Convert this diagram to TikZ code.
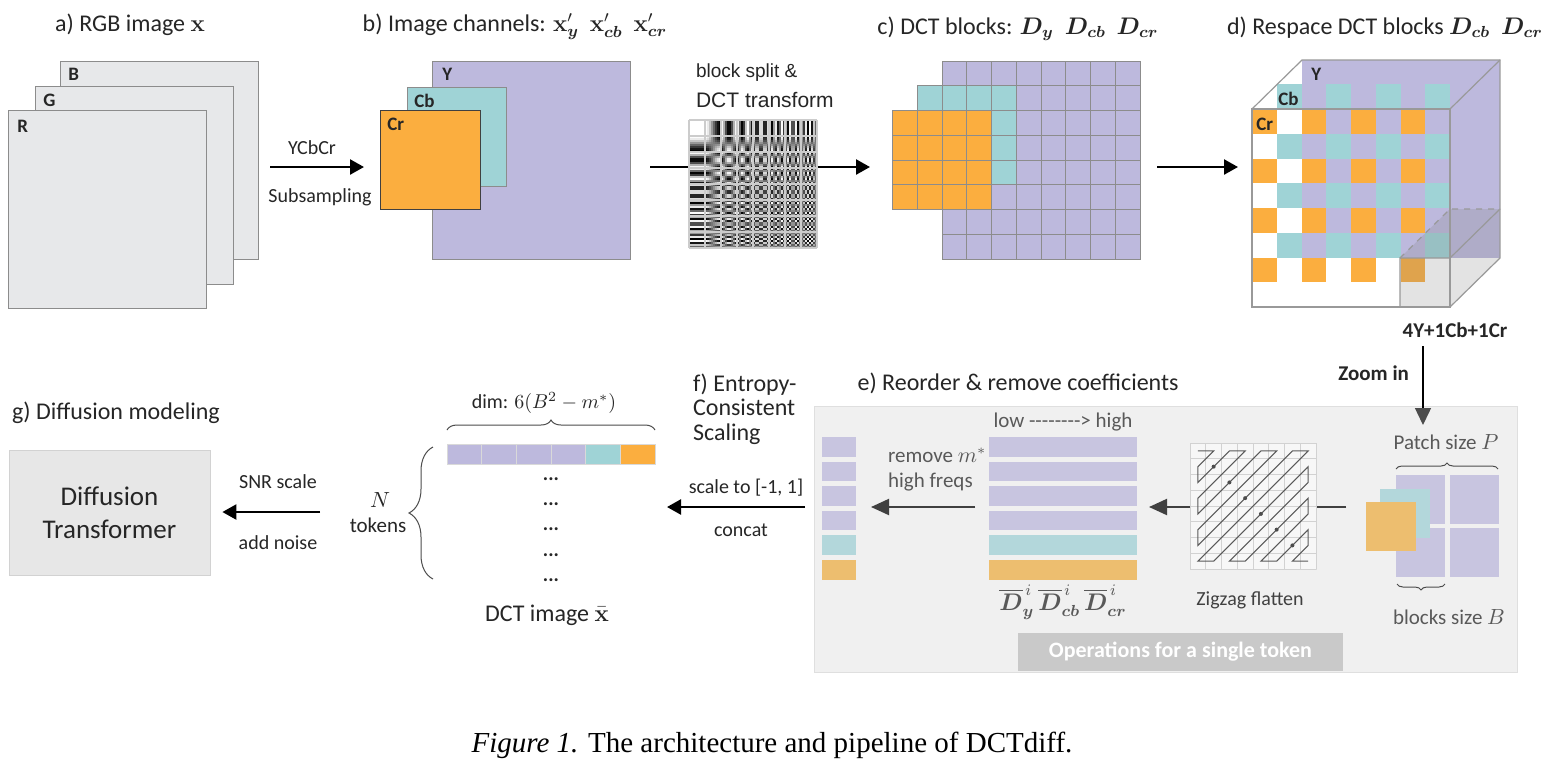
\documentclass[tikz,border=0pt]{standalone}
\usepackage[no-math]{fontspec}
\setmainfont{Carlito}
\newfontfamily\arialfont{Liberation Sans}
\newfontfamily\timesfont{Liberation Serif}
\usepackage{amsmath,bm}
\usetikzlibrary{arrows.meta,positioning,decorations.pathreplacing}
\definecolor{rgbgray}{HTML}{E7E8EA}
\definecolor{cY}{HTML}{BDB9DD}
\definecolor{cCb}{HTML}{9FD3D6}
\definecolor{cCr}{HTML}{FBAE3F}
\definecolor{eY}{HTML}{C8C5E0}
\definecolor{eCb}{HTML}{B3D7DB}
\definecolor{eCr}{HTML}{EDBE6F}
\definecolor{txt}{HTML}{262626}
\definecolor{softgray}{HTML}{595959}
\definecolor{panelgray}{HTML}{F0F0F0}
\definecolor{opgray}{HTML}{C9C9C9}
\definecolor{dtgray}{HTML}{E7E7E7}
\definecolor{zzbg}{HTML}{F7F7F7}
\begin{document}
\begin{tikzpicture}[x=0.5pt,y=-0.5pt] % 1 unit = 1 px
\tikzstyle{ttl} = [font=\fontsize{12}{14}\selectfont, text=txt, anchor=base] % заголовки a)..g)
\tikzstyle{lbl} = [font=\fontsize{10}{12}\selectfont, text=txt] % подписи у стрелок
\tikzstyle{tagbold} = [font=\bfseries\fontsize{9.5}{11}\selectfont, text=txt, anchor=north west, inner sep=1pt] % R G B, Y Cb Cr
\tikzstyle{chlayer} = [draw=gray!90, line width=0.6pt, inner sep=0pt, anchor=north west] % image planes
\tikzstyle{gridcell} = [draw=gray!90, line width=0.5pt]
\tikzstyle{softtxt} = [text=softgray, font=\fontsize{10.5}{12.5}\selectfont]
\tikzstyle{bigarrow} = [-{Triangle[length=7pt,width=7.5pt]}, line width=1.2pt]
\tikzstyle{greyarrow} = [-{Triangle[length=9pt,width=8pt]}, line width=1pt, draw=black!75, fill=black!75]
\tikzstyle{brc} = [decorate, draw=black!70, line width=0.5pt]

\path[use as bounding box, fill=white] (0,0) rectangle (1549,768);

% a) RGB
\node[ttl] (ta) at (130,31) {a) RGB image $\mathbf{x}$};
\node[chlayer, fill=rgbgray, minimum width=99pt, minimum height=99pt] (rgbB) at (60,61) {};
\node[chlayer, fill=rgbgray, minimum width=99pt, minimum height=99pt] (rgbG) at (35,86) {};
\node[chlayer, fill=rgbgray, minimum width=99pt, minimum height=99pt] (rgbR) at (8,110) {};
\node[tagbold] (tB) at ([shift={(6,5)}]rgbB.north west) {B};
\node[tagbold] (tG) at ([shift={(6,6)}]rgbG.north west) {G};
\node[tagbold] (tR) at ([shift={(7,8)}]rgbR.north west) {R};
\coordinate (a1) at (270,167);
\coordinate (a2) at (364,167);
\draw[bigarrow] (a1) -- (a2);
\node[lbl] (ycc) at (312,148) {YCbCr};
\node[lbl] (subs) at (320,197) {Subsampling};

% b) channels
\node[ttl] (tb) at (515,31) {b) Image channels: $\mathbf{x}'_{\bm{y}}$\ \ $\mathbf{x}'_{\bm{cb}}$\ \ $\mathbf{x}'_{\bm{cr}}$};
\node[chlayer, fill=cY, minimum width=99pt, minimum height=99pt] (chY) at (432,61) {};
\node[chlayer, fill=cCb, minimum width=49.5pt, minimum height=49.5pt] (chCb) at (407,87) {};
\node[chlayer, fill=cCr, draw=black!75, minimum width=50pt, minimum height=49.5pt] (chCr) at (380,110) {};
\node[tagbold] (tY) at ([shift={(8,5)}]chY.north west) {Y};
\node[tagbold] (tCb) at ([shift={(5,5)}]chCb.north west) {Cb};
\node[tagbold] (tCr) at ([shift={(5,6)}]chCr.north west) {Cr};
\coordinate (b1) at (650,167);
\coordinate (b2) at (870,167);
\draw[bigarrow] (b1) -- (b2);
\node[anchor=west, font=\arialfont\fontsize{9.5}{11}\selectfont, text=txt] (bsplit) at (689,73) {block split \&};
\node[anchor=west, font=\arialfont\fontsize{10.5}{12}\selectfont, text=txt] (dctt) at (689,100) {DCT transform};
% DCT basis 8x8
\foreach \r in {0,...,7}{\foreach \c in {0,...,7}{\foreach \j in {0,...,7}{\foreach \i in {0,...,7}{
  \pgfmathsetmacro\v{max(0,min(100,50-50*cos(11.25*\c*(2*\i+1))*cos(11.25*\r*(2*\j+1))))}
  \fill[black!\v] (689+16*\c+2*\i,120+16*\r+2*\j) rectangle ++(2,2);
}}}}
\foreach \k in {0,...,8}{
  \draw[gray!40, line width=0.6pt] (689+16*\k,120) -- (689+16*\k,248);
  \draw[gray!40, line width=0.6pt] (689,120+16*\k) -- (817,120+16*\k);
}

% c) DCT blocks
\node[ttl] (tc) at (1018,34) {c) DCT blocks: $\bm{D_y}$\ \ $\bm{D_{cb}}$\ \ $\bm{D_{cr}}$};
\foreach \i in {0,...,7} \foreach \j in {0,...,7}
  \filldraw[gridcell, fill=cY] (942+24.75*\i,61+24.75*\j) rectangle ++(24.75,24.75);
\foreach \i in {0,...,3} \foreach \j in {0,...,3}
  \filldraw[gridcell, fill=cCb] (917.25+24.75*\i,85.75+24.75*\j) rectangle ++(24.75,24.75);
\foreach \i in {0,...,3} \foreach \j in {0,...,3}
  \filldraw[gridcell, fill=cCr] (892.5+24.75*\i,110.5+24.75*\j) rectangle ++(24.75,24.75);
\coordinate (c1) at (1157,167);
\coordinate (c2) at (1238,167);
\draw[bigarrow] (c1) -- (c2);

% d) respace cube
\node[ttl] (td) at (1385,34) {d) Respace DCT blocks $\bm{D_{cb}}$\ \ $\bm{D_{cr}}$};
\fill[cY] (1302,60) rectangle (1500,258); % Y at the back
\foreach \c in {1,3,5,7} \foreach \r in {-1,1,3,5}
  \fill[cCb] (1252+24.75*\c,109+24.75*\r) rectangle ++(24.75,24.75);
\foreach \c in {0,2,4,6} \foreach \r in {0,2,4,6}
  \fill[cCr] (1252+24.75*\c,109+24.75*\r) rectangle ++(24.75,24.75);
\fill[gray, fill opacity=0.22] (1400,258) rectangle (1450,307);
\fill[gray, fill opacity=0.22] (1400,258) -- (1450,209) -- (1500,209) -- (1450,258) -- cycle;
\fill[gray, fill opacity=0.22] (1450,258) -- (1500,209) -- (1500,258) -- (1450,307) -- cycle;
\draw[gray!80, line width=0.6pt] (1252,109) rectangle (1450,307);
\draw[gray!80, line width=0.6pt] (1252,109) -- (1302,60) -- (1500,60) -- (1500,258) -- (1450,307);
\draw[gray!80, line width=0.6pt] (1450,109) -- (1500,60);
\draw[gray!80, line width=0.6pt] (1400,307) -- (1400,258) -- (1450,258) -- (1500,209);
\draw[gray!80, line width=0.6pt, dashed] (1400,258) -- (1450,209) -- (1500,209);
\node[tagbold] (dY) at (1309,66) {Y};
\node[tagbold] (dCb) at (1276,90) {Cb};
\node[tagbold] (dCr) at (1254,116) {Cr};
\node[font=\bfseries\fontsize{10.5}{12}\selectfont, text=txt] (mix) at (1455,330) {4Y+1Cb+1Cr};

% e) panel
\node[draw=gray!25, fill=panelgray, inner sep=0pt, anchor=north west, minimum width=351.5pt, minimum height=133pt] (panel) at (814,406) {};
\node[ttl] (te) at (1018,390) {e) Reorder \& remove coefficients};
\coordinate (z1) at (1423,346);
\coordinate (z2) at (1423,425);
\draw[-{Triangle[length=8.5pt,width=8pt,color=black!70]}, line width=0.7pt] (z1) -- (z2);
\node[font=\bfseries\fontsize{10.5}{12}\selectfont, text=txt, anchor=east] (zin) at (1416,373) {Zoom in};
% patch of 2x2 blocks
\foreach \px/\py in {1396/475,1450/475,1396/528,1450/528}
  \fill[eY] (\px,\py) rectangle ++(49,49);
\fill[eCb] (1380,489) rectangle ++(50,49);
\fill[eCr] (1366,502) rectangle ++(50,49);
\node[softtxt] (psz) at (1446,442) {Patch size $P$};
\draw[brc, decoration={brace, amplitude=3pt}] (1396,469) -- (1498,469);
\draw[brc, decoration={brace, amplitude=3pt}] (1445,584) -- (1397,584);
\node[softtxt] (bsz) at (1449,617) {blocks size $B$};
\coordinate (e1) at (1346,507);
\coordinate (e2) at (1149,507);
\draw[greyarrow] (e1) -- (e2);
% zigzag
\filldraw[fill=zzbg, draw=gray!30] (1190,443) rectangle (1316,569);
\foreach \k in {0,...,8}{
  \draw[gray!35, line width=0.5pt] (1190+15.75*\k,443) -- (1190+15.75*\k,569);
  \draw[gray!35, line width=0.5pt] (1190,443+15.75*\k) -- (1316,443+15.75*\k);
}
\draw[black!65, line width=0.5pt] (1197.9,450.9) \foreach \c/\r in {1/0,0/1,0/2,2/0,3/0,0/3,0/4,4/0,5/0,0/5,0/6,6/0,7/0,0/7,1/7,7/1,7/2,2/7,3/7,7/3,7/4,4/7,5/7,7/5,7/6,6/7,7/7}{ -- (1197.9+15.75*\c,450.9+15.75*\r) };
\foreach \k in {1,...,6}
  \fill[black!70] (1197.9+15.75*\k,450.9+15.75*\k) circle (1pt);
\node[text=black!75, font=\fontsize{10}{12}\selectfont] (zzl) at (1250,600) {Zigzag flatten};
% flattened vectors
\foreach \k/\clr in {0/eY,1/eY,2/eY,3/eY,4/eCb,5/eCr}{
  \fill[\clr] (989,437+24.6*\k) rectangle ++(148,19.5);
  \fill[\clr] (822,437+24.6*\k) rectangle ++(34,19.5);
}
\node[softtxt] (lh) at (1063,422) {low -{}-{}-{}-{}-{}-{}-{}-{}> high};
\node[text=softgray, font=\fontsize{12}{14}\selectfont] (dl) at (1063,602) {$\overline{\bm{D}}^{\,i}_{\bm{y}}\,\overline{\bm{D}}^{\,i}_{\bm{cb}}\,\overline{\bm{D}}^{\,i}_{\bm{cr}}$};
\coordinate (r1) at (975,507);
\coordinate (r2) at (871,507);
\draw[greyarrow] (r1) -- (r2);
\node[softtxt, anchor=west, align=left] (rm) at (881,470) {remove $m^*$\\high freqs};
\node[fill=opgray, text=white, font=\bfseries\fontsize{11}{13}\selectfont, inner sep=0pt, minimum width=162.5pt, minimum height=19pt] (ops) at (1180.5,652) {Operations for a single token};

% f) scaling
\node[ttl, anchor=west, align=left, font=\fontsize{12}{12.25}\selectfont] (tf) at (686,409) {f) Entropy-\\Consistent\\Scaling};
\coordinate (f1) at (805,507);
\coordinate (f2) at (667,507);
\draw[bigarrow] (f1) -- (f2);
\node[lbl] (sc) at (746,488) {scale to [-1, 1]};
\node[lbl] (cc) at (741,530) {concat};
% DCT image tokens
\foreach \k/\clr in {0/cY,1/cY,2/cY,3/cY,4/cCb,5/cCr}
  \filldraw[fill=\clr, draw=gray!30, line width=0.5pt] (447+34.67*\k,444) rectangle ++(34.67,20);
\draw[brc, decoration={brace, amplitude=5pt}] (447,430) -- (655,430);
\node[lbl] (dim) at (544,403) {dim: $6(B^2-m^*)$};
\draw[brc, decoration={brace, amplitude=12pt}] (433,579) -- (433,447);
\node[lbl, font=\fontsize{10.5}{12}\selectfont] (nn) at (380,500) {$N$};
\node[lbl, font=\fontsize{10.5}{12}\selectfont] (tok) at (378,525) {tokens};
\foreach \y [count=\k] in {479,504,529,555,580}
  \node[font=\bfseries\fontsize{10}{12}\selectfont, text=txt] (dot\k) at (551,\y) {...};
\node[font=\fontsize{12}{14}\selectfont, text=txt] (dimg) at (547,615) {DCT image $\bar{\mathbf{x}}$};

% g) diffusion
\node[ttl] (tg) at (116,419) {g) Diffusion modeling};
\node[draw=gray!35, fill=dtgray, align=center, text=txt, font=\fontsize{13.5}{16.5}\selectfont, minimum width=100.5pt, minimum height=62.5pt] (dt) at (109.5,512.5) {Diffusion\\Transformer};
\coordinate (g1) at (320,512);
\draw[bigarrow] (g1) -- ([xshift=6pt]dt.east |- g1);
\node[lbl] (snr) at (278,482) {SNR scale};
\node[lbl] (noise) at (278,543) {add noise};

% caption
\node[anchor=base, font=\timesfont\fontsize{14.5}{17}\selectfont] (cap) at (772,752) {\textit{Figure 1.} The architecture and pipeline of DCTdiff.};
\end{tikzpicture}
\end{document}
